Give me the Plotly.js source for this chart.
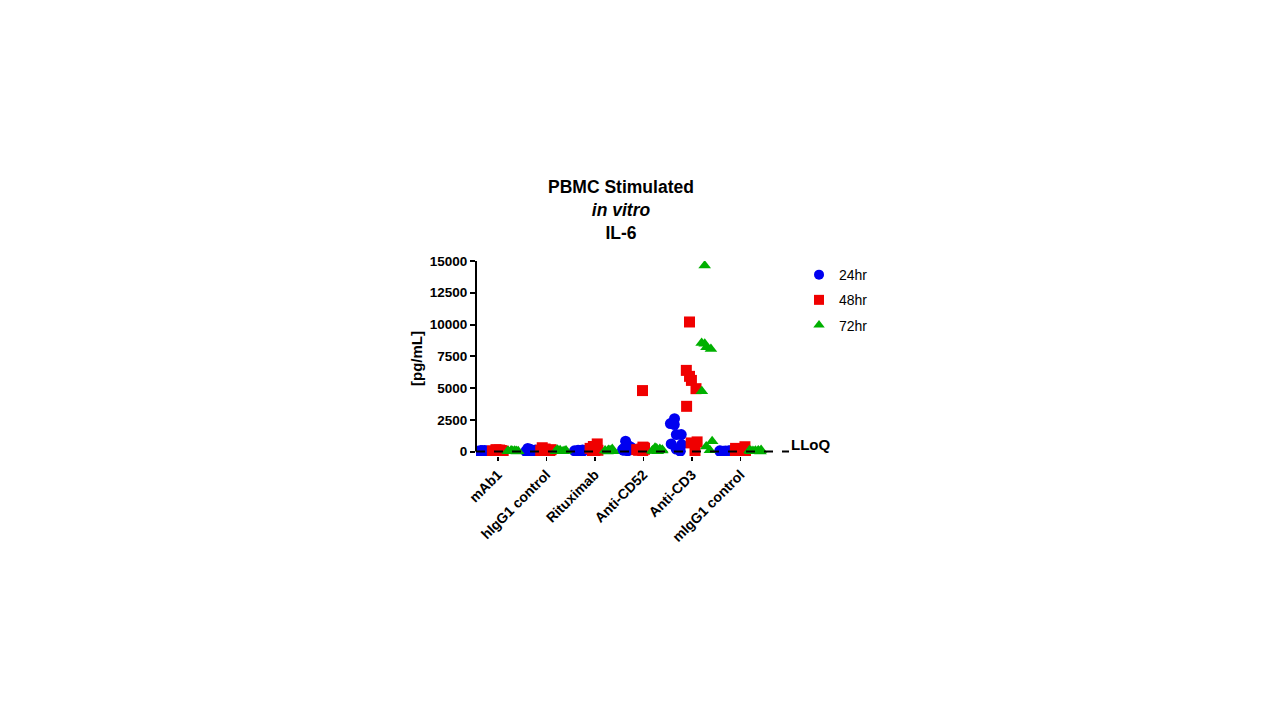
<!DOCTYPE html>
<html>
<head>
<meta charset="utf-8">
<script src="https://cdn.plot.ly/plotly-3.0.1.min.js"></script>
<style>
  html, body { margin: 0; padding: 0; background: #fff; }
  #plot { width: 1280px; height: 720px; }
</style>
</head>
<body>
<div id="plot"></div>
<script>
// Treatment groups on the x axis
var groups = ['mAb1', 'hIgG1 control', 'Rituximab', 'Anti-CD52', 'Anti-CD3', 'mIgG1 control'];

// IL-6 values (pg/mL), 9 donors per group and time point
var il6_24hr = {
  'mAb1':          [20, 40, 60, 30, 80, 10, 50, 90, 25],
  'hIgG1 control': [30, 60, 250, 120, 80, 40, 180, 20, 50],
  'Rituximab':     [30, 80, 120, 50, 20, 60, 100, 40, 10],
  'Anti-CD52':     [100, 300, 550, 820, 200, 150, 400, 60, 250],
  'Anti-CD3':      [2590, 2200, 2120, 1340, 1340, 600, 550, 30, 200],
  'mIgG1 control': [20, 40, 60, 30, 10, 50, 80, 25, 15]
};
var il6_48hr = {
  'mAb1':          [30, 60, 100, 150, 80, 40, 120, 50, 20],
  'hIgG1 control': [50, 100, 300, 200, 150, 80, 120, 60, 30],
  'Rituximab':     [100, 250, 600, 400, 150, 300, 80, 200, 50],
  'Anti-CD52':     [150, 300, 4800, 250, 200, 350, 100, 180, 60],
  'Anti-CD3':      [10200, 6390, 5920, 5600, 4950, 3560, 760, 680, 50],
  'mIgG1 control': [50, 150, 380, 250, 100, 60, 200, 30, 80]
};
var il6_72hr = {
  'mAb1':          [10, 30, 50, 80, 20, 60, 40, 15, 25],
  'hIgG1 control': [20, 60, 150, 90, 40, 30, 110, 50, 15],
  'Rituximab':     [30, 80, 200, 120, 60, 40, 100, 20, 10],
  'Anti-CD52':     [60, 150, 300, 200, 100, 80, 40, 250, 20],
  'Anti-CD3':      [14640, 8540, 8480, 8220, 8070, 4740, 810, 400, 100],
  'mIgG1 control': [20, 60, 100, 40, 30, 80, 50, 10, 120]
};

var seriesNames = ['24hr', '48hr', '72hr'];
var seriesData = [il6_24hr, il6_48hr, il6_72hr];
var seriesColors = ['#0000f0', '#f00000', '#00b000'];
var seriesSymbols = ['circle', 'square', 'triangle-up'];

var yTicks = [0, 2500, 5000, 7500, 10000, 12500, 15000];
var lloq = 0;

var FONT = 'Arial, "Liberation Sans", sans-serif';

// Flatten each series into x/y lists so the box trace can scatter the points
function buildTrace(k) {
  var xs = [], ys = [];
  groups.forEach(function (g) {
    seriesData[k][g].forEach(function (v) {
      xs.push(g);
      ys.push(v);
    });
  });
  return {
    type: 'box',
    name: seriesNames[k],
    x: xs,
    y: ys,
    boxpoints: 'all',
    jitter: 1,
    pointpos: 0,
    fillcolor: 'rgba(0,0,0,0)',
    line: {width: 0, color: 'rgba(0,0,0,0)'},
    marker: {color: seriesColors[k], symbol: seriesSymbols[k], size: 11},
    hoveron: 'points',
    showlegend: false
  };
}

// legend entries use plain scatter traces so the legend shows the marker shapes
function legendTrace(k) {
  return {
    type: 'scatter',
    mode: 'markers',
    name: seriesNames[k],
    x: [null],
    y: [null],
    legendgroup: 'g' + k,
    marker: {color: seriesColors[k], symbol: seriesSymbols[k], size: 10}
  };
}

var data = [];
for (var k = 0; k < 3; k++) data.push(buildTrace(k));
for (var k = 0; k < 3; k++) data.push(legendTrace(k));

var layout = {
  width: 1280,
  height: 720,
  paper_bgcolor: '#fff',
  plot_bgcolor: '#fff',
  font: {family: FONT, color: '#000'},
  margin: {l: 476, r: 491, t: 261, b: 263.5},
  boxmode: 'group',
  boxgap: 0.07,
  boxgroupgap: 0,
  title: {
    text: '<b>PBMC Stimulated<br><i>in vitro</i><br>IL-6</b>',
    font: {family: FONT, size: 17.5, color: '#000'},
    x: 621 / 1280,
    xref: 'container',
    xanchor: 'center',
    y: 1 - 193 / 720,
    yref: 'container',
    yanchor: 'top'
  },
  xaxis: {
    type: 'category',
    categoryorder: 'array',
    categoryarray: groups,
    range: [-0.45, 6.0],
    showline: false,
    showgrid: false,
    zeroline: false,
    ticks: 'outside',
    ticklen: 4,
    tickwidth: 1.5,
    tickcolor: '#000',
    tickangle: -45,
    tickfont: {family: FONT, size: 14, color: '#000', weight: 'bold'}
  },
  yaxis: {
    range: [-350, 15000],
    showline: false,
    showgrid: false,
    zeroline: false,
    ticks: 'outside',
    ticklen: 5,
    tickwidth: 2,
    tickcolor: '#000',
    tickvals: yTicks,
    ticktext: yTicks.map(String),
    tickfont: {family: FONT, size: 13.5, color: '#000', weight: 'bold'},
    title: {text: '<b>[pg/mL]</b>', font: {family: FONT, size: 15, color: '#000'}, standoff: 3}
  },
  legend: {
    x: 1.032,
    xanchor: 'left',
    y: 1.01,
    yanchor: 'top',
    font: {family: FONT, size: 14, color: '#000'},
    traceorder: 'grouped',
    tracegroupgap: 4,
    bgcolor: 'rgba(0,0,0,0)'
  },
  shapes: [
    // y axis line from 0 to the top
    {type: 'line', xref: 'paper', yref: 'y', x0: 0, x1: 0, y0: 0, y1: 15000,
     line: {color: '#000', width: 2}},
    // LLoQ dashed line
    {type: 'line', xref: 'paper', yref: 'y', x0: 0, x1: 1, y0: lloq, y1: lloq,
     line: {color: '#000', width: 2, dash: 'dash'}}
  ],
  annotations: [
    {text: '<b>LLoQ</b>', xref: 'paper', yref: 'y', x: 1.0, y: lloq, xanchor: 'left', yanchor: 'bottom',
     yshift: -3, showarrow: false, font: {family: FONT, size: 15, color: '#000'}}
  ]
};

Plotly.newPlot('plot', data, layout, {displayModeBar: false, staticPlot: true});
</script>
</body>
</html>
